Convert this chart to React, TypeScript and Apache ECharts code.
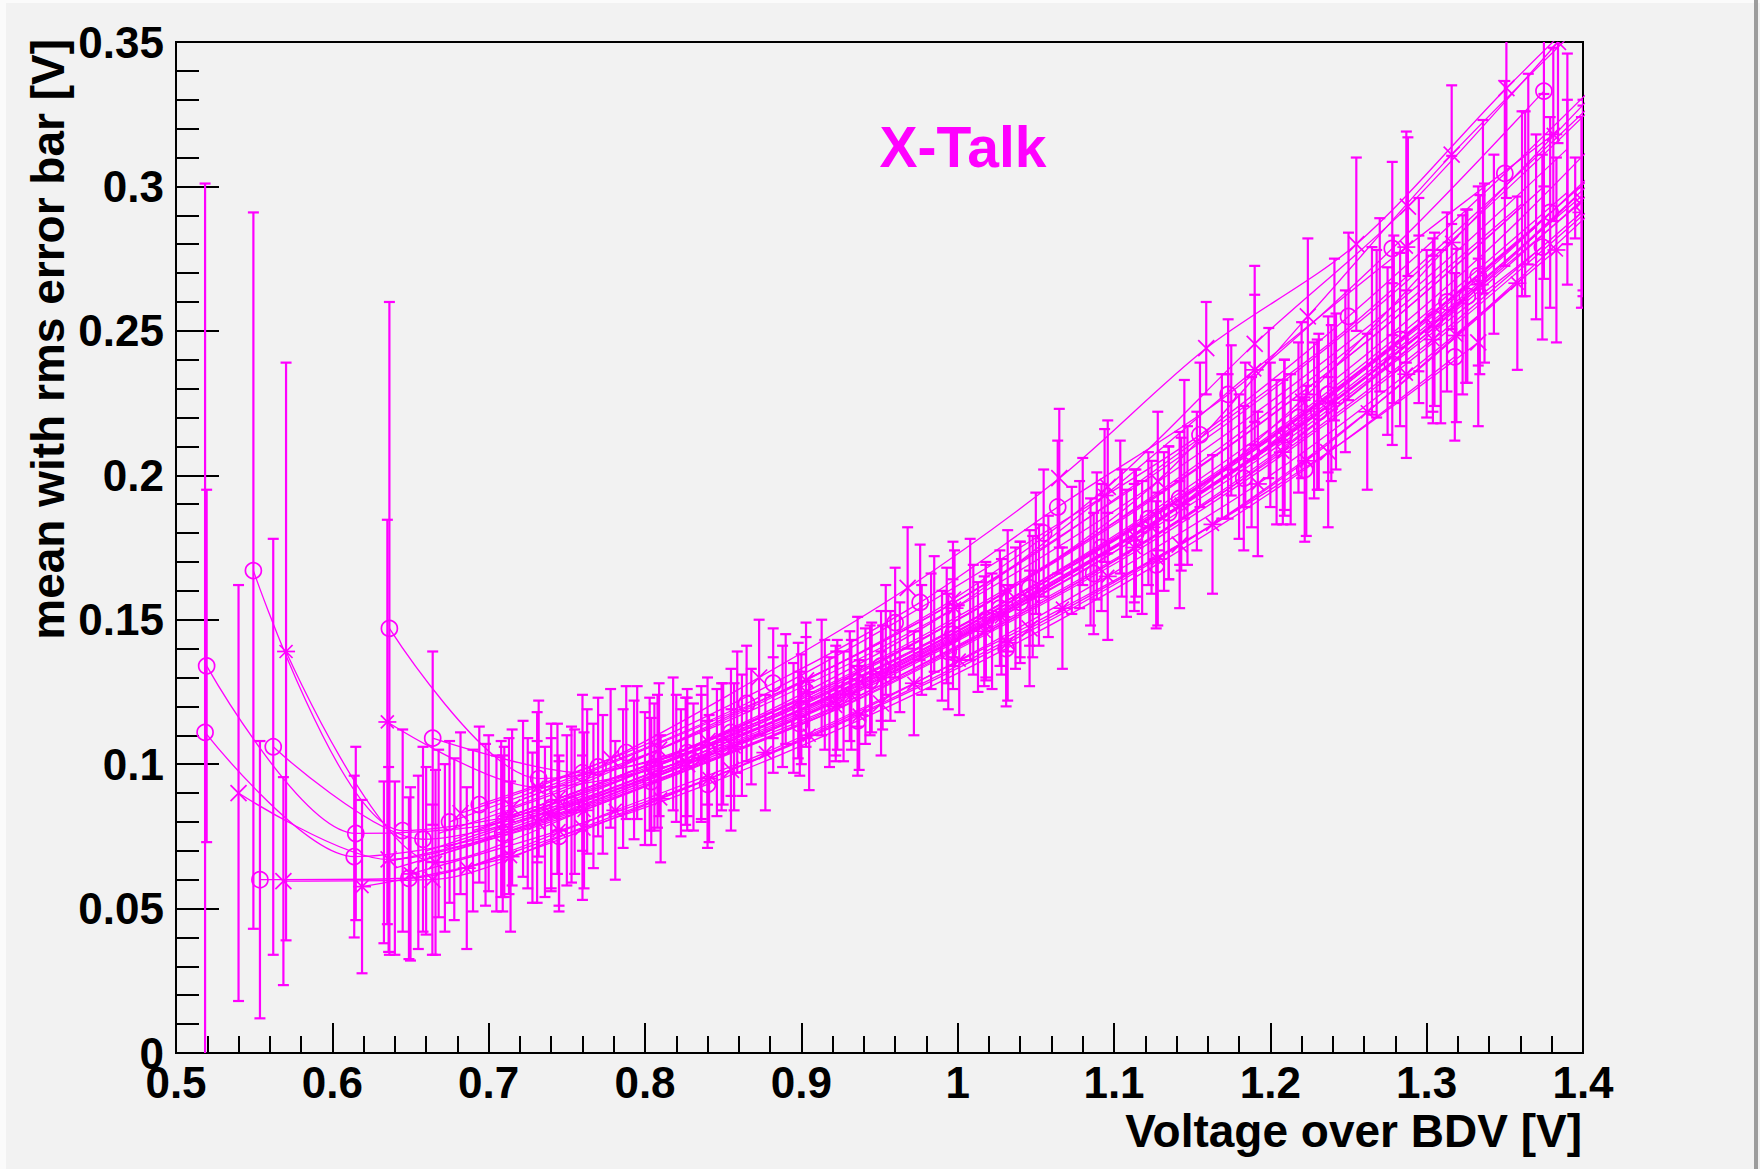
import React, { useEffect, useRef } from "react";
import * as echarts from "echarts";

// ---------- axis ranges ----------
const X_MIN = 0.5;
const X_MAX = 1.4;
const X_STEP = 0.1;
const Y_MIN = 0;
const Y_MAX = 0.35;
const Y_STEP = 0.05;

// ---------- texts ----------
const TITLE = "X-Talk";
const X_TITLE = "Voltage over BDV [V]";
const Y_TITLE = "mean with rms error bar [V]";

// ---------- graphs: [x, mean, rms] ----------
const A1 = [[0.5196,0.134,0.061],[0.615,0.076,0.03],[0.710,0.080,0.026],[0.806,0.099,0.022],[0.900,0.119,0.019],[0.997,0.145,0.019],[1.092,0.175,0.022],[1.188,0.208,0.026],[1.283,0.247,0.03],[1.379,0.291,0.033]];
const A2 = [[0.5186,0.111,0.19],[0.614,0.068,0.028],[0.709,0.076,0.027],[0.804,0.094,0.022],[0.899,0.114,0.018],[0.994,0.139,0.02],[1.087,0.166,0.021],[1.183,0.199,0.025],[1.278,0.2385,0.028],[1.374,0.279,0.032]];
const A3 = [[0.540,0.090,0.072],[0.636,0.067,0.032],[0.731,0.080,0.028],[0.827,0.100,0.023],[0.922,0.122,0.019],[1.018,0.149,0.02],[1.113,0.179,0.023],[1.209,0.213,0.027],[1.304,0.252,0.03],[1.400,0.295,0.033]];
const A4 = [[0.5495,0.167,0.124],[0.645,0.077,0.035],[0.740,0.085,0.029],[0.836,0.104,0.023],[0.931,0.127,0.019],[1.027,0.154,0.02],[1.122,0.185,0.023],[1.218,0.220,0.026],[1.313,0.260,0.031],[1.409,0.305,0.034]];
const A5 = [[0.5537,0.060,0.048],[0.649,0.0605,0.028],[0.745,0.075,0.026],[0.840,0.093,0.022],[0.936,0.115,0.019],[1.031,0.140,0.02],[1.127,0.169,0.022],[1.222,0.202,0.025],[1.318,0.241,0.029]];
const A6 = [[0.5622,0.106,0.072],[0.658,0.074,0.032],[0.753,0.086,0.027],[0.849,0.106,0.022],[0.944,0.129,0.019],[1.040,0.156,0.021],[1.135,0.187,0.023],[1.231,0.222,0.027],[1.326,0.262,0.03]];
const A7 = [[0.5687,0.0595,0.036],[0.664,0.060,0.026],[0.760,0.078,0.025],[0.855,0.098,0.021],[0.951,0.121,0.018],[1.046,0.147,0.02],[1.142,0.176,0.022],[1.237,0.208,0.026],[1.333,0.246,0.029]];
const A8 = [[0.5704,0.139,0.10],[0.666,0.066,0.032],[0.761,0.084,0.027],[0.857,0.106,0.022],[0.952,0.130,0.018],[1.048,0.158,0.021],[1.143,0.190,0.023],[1.239,0.225,0.027],[1.334,0.266,0.031]];
const A9 = [[0.619,0.0576,0.03],[0.714,0.068,0.026],[0.810,0.088,0.022],[0.905,0.110,0.019],[1.001,0.136,0.019],[1.096,0.165,0.022],[1.192,0.197,0.025],[1.287,0.235,0.029],[1.383,0.278,0.032]];
const A10 = [[0.6365,0.147,0.113],[0.732,0.095,0.027],[0.827,0.104,0.022],[0.923,0.124,0.019],[1.018,0.150,0.02],[1.114,0.180,0.022],[1.209,0.214,0.026],[1.305,0.254,0.03],[1.400,0.297,0.033]];
const A11 = [[0.6352,0.1146,0.07],[0.731,0.092,0.026],[0.826,0.101,0.022],[0.922,0.120,0.019],[1.017,0.146,0.019],[1.113,0.175,0.022],[1.208,0.208,0.025],[1.304,0.247,0.029],[1.399,0.291,0.033]];
const A12 = [[0.6642,0.109,0.03],[0.760,0.097,0.027],[0.855,0.111,0.022],[0.951,0.134,0.019],[1.046,0.161,0.02],[1.142,0.192,0.023],[1.237,0.228,0.027],[1.333,0.269,0.031]];

const B1 = [[0.682,0.083,0.028],[0.778,0.102,0.024],[0.873,0.130,0.02],[0.968,0.161,0.021],[1.065,0.199,0.024],[1.159,0.244,0.016],[1.255,0.280,0.03],[1.351,0.334,0.038],[1.447,0.385,0.04]];
const B2 = [[0.715,0.085,0.027],[0.809,0.105,0.023],[0.903,0.129,0.02],[0.997,0.157,0.02],[1.096,0.196,0.023],[1.190,0.2455,0.027],[1.288,0.293,0.024],[1.384,0.350,0.035]];
const B3 = [[0.744,0.088,0.026],[0.840,0.108,0.022],[0.936,0.132,0.019],[1.032,0.160,0.021],[1.128,0.198,0.024],[1.224,0.255,0.027],[1.316,0.311,0.024],[1.410,0.362,0.035]];
const B4 = [[0.668,0.076,0.029],[0.763,0.094,0.025],[0.859,0.118,0.021],[0.954,0.143,0.019],[1.050,0.173,0.021],[1.145,0.209,0.024],[1.241,0.247,0.028],[1.336,0.293,0.03],[1.432,0.342,0.033]];
const B5 = [[0.700,0.083,0.027],[0.795,0.104,0.023],[0.890,0.126,0.019],[0.985,0.152,0.02],[1.080,0.184,0.022],[1.175,0.219,0.026],[1.270,0.259,0.03],[1.365,0.306,0.033],[1.460,0.356,0.035]];
const B6 = [[0.694,0.086,0.027],[0.788,0.104,0.023],[0.882,0.128,0.019],[0.976,0.156,0.02],[1.064,0.189,0.023],[1.173,0.228,0.026],[1.278,0.2785,0.03],[1.375,0.333,0.033]];
const B7 = [[0.675,0.080,0.028],[0.770,0.099,0.024],[0.865,0.121,0.02],[0.960,0.149,0.019],[1.055,0.180,0.022],[1.155,0.214,0.025],[1.250,0.255,0.029],[1.350,0.3045,0.032],[1.445,0.355,0.035]];
const B8 = [[0.633,0.066,0.028],[0.728,0.078,0.026],[0.823,0.097,0.022],[0.918,0.118,0.019],[1.013,0.144,0.019],[1.108,0.173,0.022],[1.204,0.208,0.025],[1.300,0.249,0.029],[1.395,0.296,0.014]];
const B9 = [[0.713,0.082,0.027],[0.808,0.101,0.023],[0.903,0.125,0.019],[0.998,0.154,0.02],[1.094,0.193,0.023],[1.190,0.2365,0.026],[1.287,0.279,0.04],[1.381,0.318,0.03]];
const B10 = [[0.740,0.083,0.026],[0.836,0.102,0.022],[0.932,0.124,0.019],[1.028,0.151,0.02],[1.124,0.182,0.023],[1.220,0.226,0.027],[1.316,0.2806,0.03],[1.412,0.335,0.033]];
const B11 = [[0.686,0.064,0.028],[0.781,0.084,0.024],[0.877,0.104,0.02],[0.972,0.128,0.018],[1.067,0.154,0.021],[1.163,0.183,0.024],[1.262,0.222,0.027],[1.358,0.2665,0.03]];
const B12 = [[0.650,0.062,0.03],[0.745,0.077,0.026],[0.841,0.095,0.022],[0.937,0.117,0.019],[1.032,0.142,0.02],[1.128,0.171,0.023],[1.223,0.205,0.026],[1.319,0.2484,0.03],[1.415,0.296,0.033]];
const B13 = [[0.690,0.077,0.028],[0.786,0.095,0.024],[0.882,0.117,0.02],[0.977,0.143,0.019],[1.073,0.174,0.022],[1.169,0.210,0.025],[1.265,0.250,0.029],[1.361,0.294,0.032]];
const B14 = [[0.660,0.070,0.029],[0.755,0.087,0.025],[0.850,0.107,0.021],[0.945,0.130,0.019],[1.040,0.157,0.02],[1.135,0.187,0.023],[1.230,0.221,0.026],[1.325,0.262,0.03],[1.420,0.309,0.033]];
const B15 = [[0.725,0.083,0.026],[0.820,0.102,0.022],[0.915,0.124,0.019],[1.010,0.150,0.019],[1.105,0.180,0.022],[1.200,0.214,0.025],[1.295,0.254,0.029],[1.390,0.298,0.032]];
const B16 = [[0.705,0.076,0.027],[0.800,0.095,0.023],[0.895,0.116,0.019],[0.990,0.141,0.019],[1.085,0.170,0.022],[1.180,0.203,0.025],[1.275,0.243,0.029],[1.370,0.286,0.032]];
const B17 = [[0.678,0.074,0.028],[0.773,0.093,0.024],[0.868,0.113,0.02],[0.963,0.137,0.019],[1.058,0.165,0.021],[1.153,0.198,0.024],[1.248,0.236,0.028],[1.343,0.280,0.031],[1.438,0.332,0.034]];

const C1 = [[0.655,0.066,0.03],[0.750,0.084,0.026],[0.846,0.104,0.022],[0.941,0.127,0.02],[1.037,0.154,0.021],[1.132,0.184,0.024],[1.228,0.219,0.027],[1.323,0.259,0.031],[1.419,0.305,0.034]];
const C2 = [[0.698,0.079,0.028],[0.793,0.098,0.024],[0.888,0.120,0.021],[0.983,0.146,0.02],[1.078,0.176,0.022],[1.173,0.210,0.025],[1.268,0.249,0.029],[1.363,0.294,0.032]];
const C3 = [[0.672,0.071,0.029],[0.767,0.089,0.025],[0.862,0.110,0.021],[0.957,0.134,0.019],[1.052,0.162,0.021],[1.147,0.193,0.024],[1.242,0.229,0.027],[1.337,0.270,0.031],[1.432,0.318,0.034]];
const C4 = [[0.722,0.088,0.027],[0.818,0.107,0.023],[0.913,0.130,0.02],[1.008,0.157,0.021],[1.104,0.189,0.023],[1.199,0.225,0.026],[1.295,0.266,0.03],[1.390,0.313,0.033]];
const C5 = [[0.640,0.064,0.03],[0.736,0.080,0.026],[0.831,0.099,0.022],[0.927,0.120,0.019],[1.022,0.146,0.02],[1.118,0.175,0.023],[1.213,0.209,0.026],[1.309,0.248,0.03],[1.404,0.292,0.033]];
const C6 = [[0.708,0.081,0.027],[0.803,0.100,0.023],[0.898,0.122,0.02],[0.993,0.148,0.02],[1.089,0.179,0.022],[1.184,0.214,0.025],[1.279,0.254,0.029],[1.375,0.300,0.032]];

const GRAPHS = [
  { data: A1, marker: "circle" }, { data: A2, marker: "circle" }, { data: A3, marker: "cross" },
  { data: A4, marker: "circle" }, { data: A5, marker: "circle" }, { data: A6, marker: "circle" },
  { data: A7, marker: "cross" }, { data: A8, marker: "star" }, { data: A9, marker: "star" },
  { data: A10, marker: "circle" }, { data: A11, marker: "star" }, { data: A12, marker: "circle" },
  { data: B1, marker: "cross" }, { data: B2, marker: "cross" }, { data: B3, marker: "cross" },
  { data: B4, marker: "none" }, { data: B5, marker: "none" }, { data: B6, marker: "circle" },
  { data: B7, marker: "circle" }, { data: B8, marker: "none" }, { data: B9, marker: "star" },
  { data: B10, marker: "star" }, { data: B11, marker: "star" }, { data: B12, marker: "star" },
  { data: B13, marker: "none" }, { data: B14, marker: "none" }, { data: B15, marker: "none" },
  { data: B16, marker: "none" }, { data: B17, marker: "none" },
  { data: C1, marker: "none" }, { data: C2, marker: "none" }, { data: C3, marker: "none" },
  { data: C4, marker: "none" }, { data: C5, marker: "none" }, { data: C6, marker: "none" },
];

const MAG = "#ff00ff";
const FONT = "'Liberation Sans', Arial, Helvetica, sans-serif";

function makeRender(marker: string) {
  return (params: any, api: any) => {
    const x = api.value(0);
    const y = api.value(1);
    const e = api.value(2);
    const c = api.coord([x, y]);
    const t = api.coord([x, y + e]);
    const b = api.coord([x, y - e]);
    const bar = { stroke: MAG, lineWidth: 2.2 };
    const cw = 5.5;
    const children: any[] = [
      { type: "line", shape: { x1: c[0], y1: t[1], x2: c[0], y2: b[1] }, style: bar },
      { type: "line", shape: { x1: c[0] - cw, y1: t[1], x2: c[0] + cw, y2: t[1] }, style: bar },
      { type: "line", shape: { x1: c[0] - cw, y1: b[1], x2: c[0] + cw, y2: b[1] }, style: bar },
    ];
    const ms = { stroke: MAG, lineWidth: 1.7, fill: "none" };
    const r = 8;
    if (marker === "circle") {
      children.push({ type: "circle", shape: { cx: c[0], cy: c[1], r }, style: ms });
    } else if (marker === "cross") {
      children.push({ type: "line", shape: { x1: c[0] - r, y1: c[1] - r, x2: c[0] + r, y2: c[1] + r }, style: ms });
      children.push({ type: "line", shape: { x1: c[0] - r, y1: c[1] + r, x2: c[0] + r, y2: c[1] - r }, style: ms });
    } else if (marker === "star") {
      const d = 6.5;
      children.push({ type: "line", shape: { x1: c[0] - r - 1, y1: c[1], x2: c[0] + r + 1, y2: c[1] }, style: ms });
      children.push({ type: "line", shape: { x1: c[0] - d, y1: c[1] - d, x2: c[0] + d, y2: c[1] + d }, style: ms });
      children.push({ type: "line", shape: { x1: c[0] - d, y1: c[1] + d, x2: c[0] + d, y2: c[1] - d }, style: ms });
    }
    return { type: "group", children };
  };
}

function buildOption() {
  const series: any[] = [];
  GRAPHS.forEach((g) => {
    series.push({
      type: "line",
      data: g.data.map((p) => [p[0], p[1]]),
      symbol: "none",
      smooth: 0.3,
      lineStyle: { color: MAG, width: 1.3 },
      silent: true,
      z: 2,
    });
    series.push({
      type: "custom",
      data: g.data,
      renderItem: makeRender(g.marker),
      encode: { x: 0, y: 1 },
      clip: true,
      silent: true,
      z: 3,
    });
  });

  const labelStyle = { color: "#000", fontFamily: FONT, fontWeight: "bold" as const, fontSize: 44 };
  const tickLine = { color: "#000", width: 2 };

  return {
    animation: false,
    backgroundColor: "#f2f2f2",
    grid: { left: 176, top: 42, right: 177, bottom: 116, show: true, borderColor: "#000", borderWidth: 2, backgroundColor: "transparent" },
    xAxis: {
      type: "value", min: X_MIN, max: X_MAX, interval: X_STEP,
      axisLine: { lineStyle: tickLine },
      axisTick: { inside: true, length: 30, lineStyle: tickLine },
      minorTick: { show: true, splitNumber: 5, length: 17, lineStyle: tickLine },
      splitLine: { show: false },
      axisLabel: { ...labelStyle, margin: 7, formatter: (v: number) => String(Math.round(v * 10) / 10) },
    },
    yAxis: {
      type: "value", min: Y_MIN, max: Y_MAX, interval: Y_STEP,
      axisLine: { lineStyle: tickLine },
      axisTick: { inside: true, length: 43, lineStyle: tickLine },
      minorTick: { show: true, splitNumber: 5, length: 23, lineStyle: tickLine },
      splitLine: { show: false },
      axisLabel: { ...labelStyle, margin: 12, formatter: (v: number) => String(Math.round(v * 100) / 100) },
    },
    graphic: [
      { type: "rect", shape: { x: 0, y: 0, width: 1760, height: 3 }, style: { fill: "#fbfbfb" }, silent: true },
      { type: "rect", shape: { x: 0, y: 0, width: 6, height: 1169 }, style: { fill: "#fbfbfb" }, silent: true },
      { type: "rect", shape: { x: 1754, y: 0, width: 4, height: 1169 }, style: { fill: "#9c9c9c" }, silent: true },
      {
        type: "text", x: 963, y: 147,
        style: { text: TITLE, fill: MAG, font: `bold 57px ${FONT}`, textAlign: "center", textVerticalAlign: "middle" },
      },
      {
        type: "text", x: 1582, y: 1131,
        style: { text: X_TITLE, fill: "#000", font: `bold 46px ${FONT}`, textAlign: "right", textVerticalAlign: "middle" },
      },
      {
        type: "text", x: 48, y: 39, rotation: Math.PI / 2,
        style: { text: Y_TITLE, fill: "#000", font: `bold 46px ${FONT}`, textAlign: "right", textVerticalAlign: "middle" },
      },
    ],
    series,
  };
}

export default function App() {
  const ref = useRef<HTMLDivElement>(null);
  useEffect(() => {
    if (!ref.current) return;
    const chart = echarts.init(ref.current, null, { renderer: "svg" });
    chart.setOption(buildOption() as any);
    return () => chart.dispose();
  }, []);
  return <div ref={ref} style={{ position: "absolute", left: 0, top: 0, width: 1760, height: 1169 }} />;
}
